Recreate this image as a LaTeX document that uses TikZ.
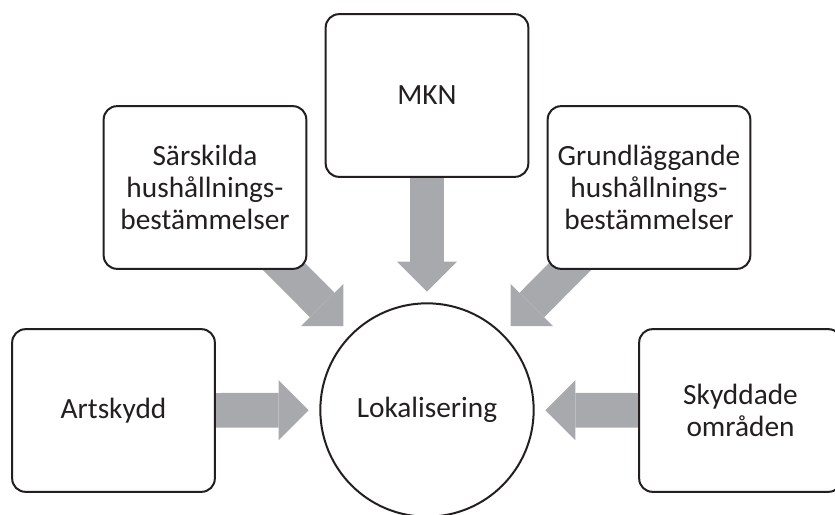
\documentclass[tikz,border=0pt]{standalone}
\usepackage{fontspec}
\setmainfont{Carlito}
\usetikzlibrary{arrows.meta,backgrounds}
\definecolor{arrowgray}{RGB}{167,169,172}
\definecolor{linegray}{RGB}{35,31,32}
\tikzset{
  factor/.style={draw=linegray, line width=1.5pt, rounded corners=10pt, fill=white,
    minimum width=152pt, minimum height=122pt, align=center, text=linegray,
    font=\fontsize{22}{24}\selectfont},
  centre/.style={circle, draw=linegray, line width=1.5pt, fill=white, text=linegray,
    minimum size=160pt, inner sep=0pt, font=\fontsize{22}{24}\selectfont},
  blockarrow/.style={color=arrowgray, line width=26pt,
    -{Triangle[width=45pt,length=22.5pt,line width=0pt]}, shorten >=8pt}
}
\begin{document}
\begin{tikzpicture}[x=0.75pt, y=-0.75pt]
\useasboundingbox (0,0) rectangle (835,514);

% centre and the five factors
\node[centre] (loc) at (427,410) {Lokalisering};
\node[factor] (art) at (113.5,410.5) {Artskydd};
\node[factor] (sar) at (205,187.5) {Särskilda\\hushållnings-\\bestämmelser};
\node[factor] (mkn) at (427,95.5) {MKN};
\node[factor] (gru) at (649,187.5) {Grundläggande\\hushållnings-\\bestämmelser};
\node[factor] (sky) at (740.5,410.5) {Skyddade\\områden};

% arrows behind the boxes
\begin{scope}[on background layer]
\draw[blockarrow] (art.center) -- (loc);
\draw[blockarrow] (sar.center) -- (loc);
\draw[blockarrow] (mkn.center) -- (loc);
\draw[blockarrow] (gru.center) -- (loc);
\draw[blockarrow] (sky.center) -- (loc);
\end{scope}
\end{tikzpicture}
\end{document}
